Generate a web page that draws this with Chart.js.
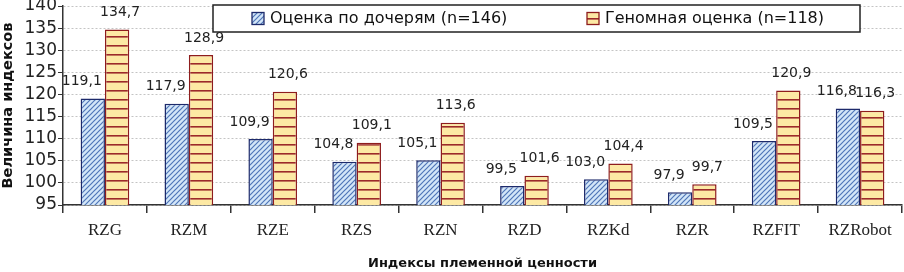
<!DOCTYPE html>
<html>
<head>
<meta charset="utf-8">
<script src="https://cdn.jsdelivr.net/npm/chart.js@4/dist/chart.umd.min.js"></script>
<style>
  html, body { margin: 0; padding: 0; background: #fff; }
  #wrap { width: 904px; height: 272px; position: relative; }
</style>
</head>
<body>
<div id="wrap"><canvas id="c" width="904" height="272"></canvas></div>
<script>
const categories = ['RZG', 'RZM', 'RZE', 'RZS', 'RZN', 'RZD', 'RZKd', 'RZR', 'RZFIT', 'RZRobot'];
const seriesNames = ['Оценка по дочерям (n=146)', 'Геномная оценка (n=118)'];
// bar heights as drawn in the picture
const daughtersValues = [119.1, 117.9, 109.9, 104.8, 105.1, 99.3, 100.8, 97.9, 109.5, 116.8];
const genomicValues = [134.7, 128.9, 120.6, 109.1, 113.6, 101.6, 104.4, 99.7, 120.9, 116.3];
// data labels as printed in the picture
const daughtersLabels = ['119,1', '117,9', '109,9', '104,8', '105,1', '99,5', '103,0', '97,9', '109,5', '116,8'];
const genomicLabels = ['134,7', '128,9', '120,6', '109,1', '113,6', '101,6', '104,4', '99,7', '120,9', '116,3'];
const yTicks = [95, 100, 105, 110, 115, 120, 125, 130, 135, 140];
const yTitle = 'Величина индексов';
const xTitle = 'Индексы племенной ценности';

function hatchPattern() {
  const s = 5;
  const c = document.createElement('canvas');
  c.width = s; c.height = s;
  const g = c.getContext('2d');
  g.fillStyle = '#d3e6f8';
  g.fillRect(0, 0, s, s);
  g.strokeStyle = '#4f76b8';
  g.lineWidth = 1.2;
  g.beginPath();
  g.moveTo(-1, s + 1); g.lineTo(s + 1, -1);
  g.moveTo(-1, 1); g.lineTo(1, -1);
  g.moveTo(s - 1, s + 1); g.lineTo(s + 1, s - 1);
  g.stroke();
  return g.createPattern(c, 'repeat');
}
function stripePattern() {
  const c = document.createElement('canvas');
  c.width = 8; c.height = 9;
  const g = c.getContext('2d');
  g.fillStyle = '#fde9a4';
  g.fillRect(0, 0, 8, 9);
  g.fillStyle = '#9c2a2a';
  g.fillRect(0, 0, 8, 1.6);
  return g.createPattern(c, 'repeat');
}

const FONT_SANS = '"DejaVu Sans", "Open Sans", sans-serif';

// label placement style: first series labels sit a little left, second a little right
const labelStyle = [{ dx: -11, dy: -17 }, { dx: 3, dy: -17 }];

const labelPlugin = {
  id: 'labels',
  afterDatasetsDraw(chart) {
    const ctx = chart.ctx;
    const labelSets = [daughtersLabels, genomicLabels];
    ctx.save();
    ctx.font = '14px ' + FONT_SANS;
    ctx.fillStyle = '#222';
    ctx.textAlign = 'center';
    ctx.textBaseline = 'middle';
    chart.data.datasets.forEach((ds, di) => {
      const meta = chart.getDatasetMeta(di);
      meta.data.forEach((bar, i) => {
        ctx.fillText(labelSets[di][i], bar.x + labelStyle[di].dx, bar.y + labelStyle[di].dy);
      });
    });
    ctx.restore();
  }
};

const legendPlugin = {
  id: 'boxLegend',
  afterDraw(chart) {
    const ctx = chart.ctx;
    ctx.save();
    const L = 213, T = 5, R = 860, B = 32;
    ctx.fillStyle = '#fff';
    ctx.fillRect(L, T, R - L, B - T);
    ctx.strokeStyle = '#222';
    ctx.lineWidth = 1.5;
    ctx.strokeRect(L, T, R - L, B - T);
    const cy = (T + B) / 2;
    const items = [
      { x: 252, tx: 270, ds: 0 },
      { x: 587, tx: 605, ds: 1 }
    ];
    ctx.font = '16px ' + FONT_SANS;
    ctx.textBaseline = 'middle';
    ctx.textAlign = 'left';
    items.forEach(it => {
      const ds = chart.data.datasets[it.ds];
      ctx.fillStyle = ds.backgroundColor;
      ctx.fillRect(it.x, cy - 6, 12, 12);
      ctx.strokeStyle = ds.borderColor;
      ctx.lineWidth = 1.3;
      ctx.strokeRect(it.x, cy - 6, 12, 12);
      ctx.fillStyle = '#111';
      ctx.fillText(seriesNames[it.ds], it.tx, cy + 0.5);
    });
    ctx.restore();
  }
};

const ctx = document.getElementById('c').getContext('2d');
new Chart(ctx, {
  type: 'bar',
  data: {
    labels: categories,
    datasets: [
      {
        label: seriesNames[0],
        data: daughtersValues,
        backgroundColor: hatchPattern(),
        borderColor: '#1d2a6b',
        borderWidth: 1.5,
        categoryPercentage: 0.58,
        barPercentage: 1.0
      },
      {
        label: seriesNames[1],
        data: genomicValues,
        backgroundColor: stripePattern(),
        borderColor: '#8e1d1d',
        borderWidth: 1.5,
        categoryPercentage: 0.58,
        barPercentage: 1.0
      }
    ]
  },
  options: {
    responsive: false,
    animation: false,
    devicePixelRatio: 1,
    layout: { padding: { left: 0, right: 2, top: 6, bottom: 0 } },
    plugins: {
      legend: { display: false },
      tooltip: { enabled: false }
    },
    scales: {
      x: {
        grid: {
          display: true,
          drawOnChartArea: false,
          drawTicks: true,
          tickLength: 8,
          color: '#333',
          lineWidth: 1.5,
          offset: true
        },
        border: { display: true, color: '#333', width: 1.5 },
        ticks: {
          font: { family: '"Liberation Serif", "Times New Roman", serif', size: 17 },
          color: '#222',
          padding: 7.5,
          maxRotation: 0,
          autoSkip: false
        },
        title: {
          display: true,
          text: xTitle,
          font: { family: FONT_SANS, size: 13, weight: 'bold' },
          color: '#111',
          padding: { top: 0, bottom: 1 }
        },
        afterFit(scale) { scale.height = 67; scale.paddingLeft = 0; scale.paddingRight = 0; }
      },
      y: {
        min: 95,
        max: 140,
        afterBuildTicks(scale) { scale.ticks = yTicks.map(v => ({ value: v })); },
        grid: {
          color: '#c4c4c4',
          lineWidth: 1,
          drawTicks: true,
          tickLength: 5,
          tickColor: '#333'
        },
        border: { display: true, color: '#333', width: 1.5, dash: [2, 2] },
        ticks: {
          font: { family: FONT_SANS, size: 17 },
          color: '#222',
          padding: 1,
          autoSkip: false
        },
        title: {
          display: true,
          text: yTitle,
          font: { family: FONT_SANS, size: 14.5, weight: 'bold' },
          color: '#111',
          padding: { top: 0, bottom: 0 }
        },
        afterFit(scale) { scale.width = 63; scale.paddingTop = 0; scale.paddingBottom = 0; }
      }
    }
  },
  plugins: [labelPlugin, legendPlugin]
});
</script>
</body>
</html>
